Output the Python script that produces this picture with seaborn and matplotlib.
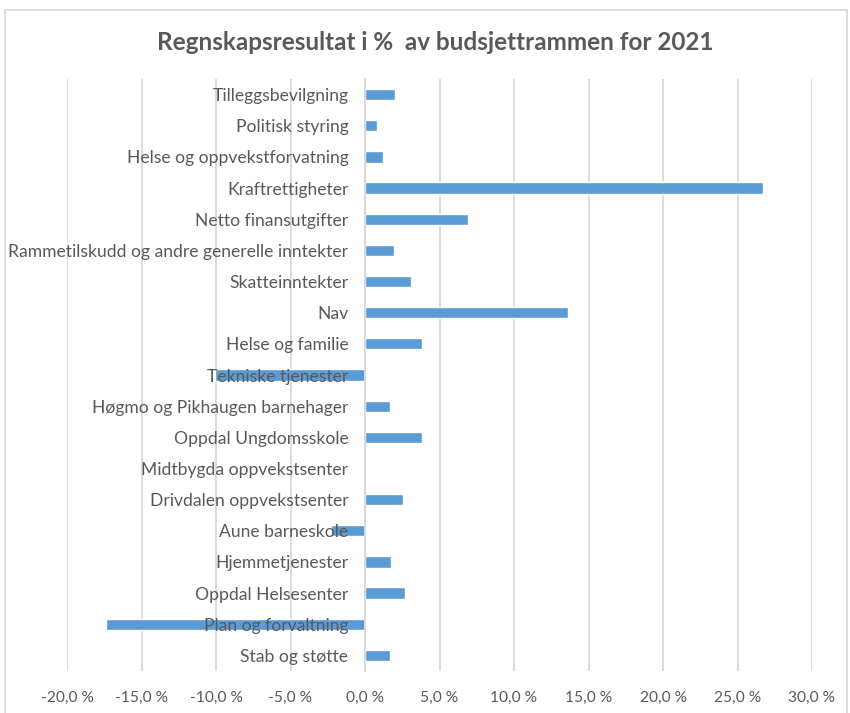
import matplotlib
matplotlib.use("Agg")
import matplotlib.pyplot as plt
import seaborn as sns
import pandas as pd
from matplotlib.patches import Rectangle
from matplotlib.ticker import FuncFormatter, FixedLocator

categories = [
    "Tilleggsbevilgning",
    "Politisk styring",
    "Helse og oppvekstforvatning",
    "Kraftrettigheter",
    "Netto finansutgifter",
    "Rammetilskudd og andre generelle inntekter",
    "Skatteinntekter",
    "Nav",
    "Helse og familie",
    "Tekniske tjenester",
    "Høgmo og Pikhaugen barnehager",
    "Oppdal Ungdomsskole",
    "Midtbygda oppvekstsenter",
    "Drivdalen oppvekstsenter",
    "Aune barneskole",
    "Hjemmetjenester",
    "Oppdal Helsesenter",
    "Plan og forvaltning",
    "Stab og støtte",
]
values = [2.0, 0.8, 1.2, 26.7, 6.9, 1.95, 3.1, 13.6, 3.8, -10.1,
          1.7, 3.8, 0.0, 2.55, -2.3, 1.75, 2.7, -17.4, 1.7]
xticks = [-20, -15, -10, -5, 0, 5, 10, 15, 20, 25, 30]

df = pd.DataFrame({"Enhet": categories, "Resultat": values})

sns.set_style("white")
plt.rcParams['font.family'] = ['Lato', 'DejaVu Sans']

grey = "#595959"
fig = plt.figure(figsize=(8.5, 7.13), dpi=100)
ax = fig.add_axes([67 / 850, 1 - 671 / 713, 745 / 850, 592 / 713])

sns.barplot(data=df, x="Resultat", y="Enhet", orient="h", color="#5B9BD5",
            width=0.36, saturation=1, ax=ax)

ax.set_xlim(-20, 30)
ax.set_ylim(len(categories) - 0.5, -0.5)
ax.set_xticks(xticks)
ax.xaxis.set_major_formatter(FuncFormatter(lambda v, p: f"{v:.1f}".replace(".", ",") + " %"))
ax.grid(axis="x", color="#D9D9D9", linewidth=1.3)
ax.set_axisbelow(True)
# category labels sit on top of the bars, like in Excel
ax.yaxis.set_zorder(5)

for s in ["top", "right", "bottom"]:
    ax.spines[s].set_visible(False)
ax.spines["left"].set_position(("data", 0))
ax.spines["left"].set_color("#D9D9D9")
ax.spines["left"].set_linewidth(1.3)
ax.spines["left"].set_zorder(1.5)

ax.yaxis.set_minor_locator(FixedLocator([i + 0.5 for i in range(-1, len(categories))]))
ax.tick_params(axis="y", which="major", length=0, pad=12, labelsize=12.6, labelcolor=grey)
ax.tick_params(axis="y", which="minor", length=5, color="#D9D9D9", width=1.3, direction="out")
ax.tick_params(axis="x", length=0, pad=14, labelsize=11.2, labelcolor=grey)

ax.set_xlabel("")
ax.set_ylabel("")

fig.text(0.512, 1 - 42 / 713, "Regnskapsresultat i %  av budsjettrammen for 2021",
         ha="center", va="center", fontsize=17.5, fontweight="bold", color=grey)

fig.patches.append(Rectangle((5 / 850, -0.01), 842 / 850, 1 - 10 / 713 + 0.01,
                             transform=fig.transFigure, fill=False,
                             edgecolor="#D9D9D9", linewidth=1.3))

fig.savefig("out.png", dpi=100)
